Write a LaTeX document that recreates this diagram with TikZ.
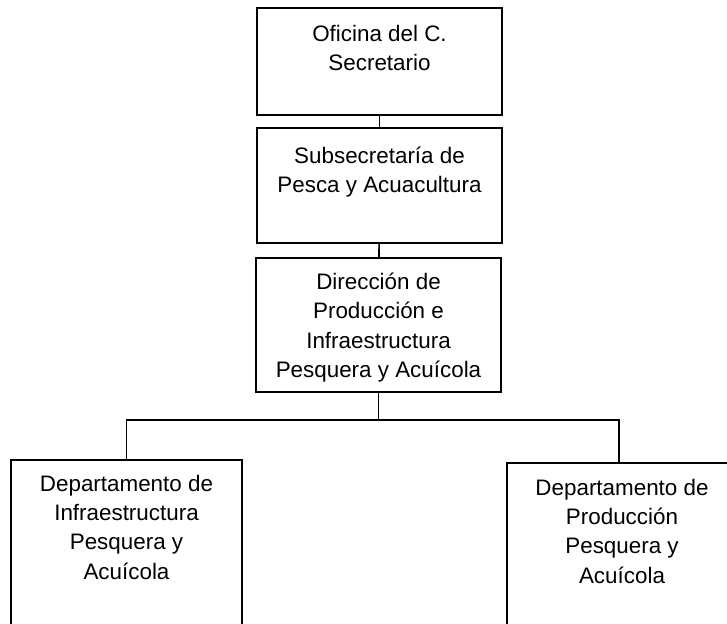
\documentclass[tikz,border=0pt]{standalone}
\usepackage{fontspec}
\setmainfont{Liberation Sans}
\begin{document}
\begin{tikzpicture}[x=0.5pt,y=-0.5pt,line width=0.8pt,
	caja/.style={draw,inner sep=0pt,minimum width=122.5pt},
	txt/.style={align=center,inner sep=0pt,anchor=north,font=\fontsize{11.2}{14.7}\selectfont}]
	\path[use as bounding box,clip] (0,0) rectangle (727,623);
	\node[caja,minimum height=53.5pt,label={[txt,yshift=-8.5pt]north:Oficina del C.\\Secretario}] (ofic) at (379.5,61.5) {};
	\node[caja,minimum height=57.5pt,label={[txt,yshift=-9.5pt]north:Subsecretaría de\\Pesca y Acuacultura}] (subsec) at (379.5,185.5) {};
	\node[caja,minimum height=67pt,label={[txt,yshift=-7.5pt]north:Dirección de\\Producción e\\Infraestructura\\Pesquera y Acuícola}] (direc) at (378.5,325) {};
	\node[caja,minimum width=115.5pt,minimum height=90pt,anchor=north,label={[txt,yshift=-7.5pt]north:Departamento de\\Infraestructura\\Pesquera y\\Acuícola}] (deptinf) at (126.5,459) {};
	\node[caja,minimum width=112pt,minimum height=90pt,anchor=north,label={[txt,xshift=1.5pt,yshift=-8pt]north:Departamento de\\Producción\\Pesquera y\\Acuícola}] (deptprod) at (619,462) {};
	\coordinate (bus) at (0,420);
	\draw (ofic) -- (subsec);
	\draw (subsec) -- (direc);
	\draw (direc.south) -- (direc.south |- bus);
	\draw (deptinf.north) -- (deptinf.north |- bus) -- (deptprod.north |- bus) -- (deptprod.north);
\end{tikzpicture}
\end{document}
